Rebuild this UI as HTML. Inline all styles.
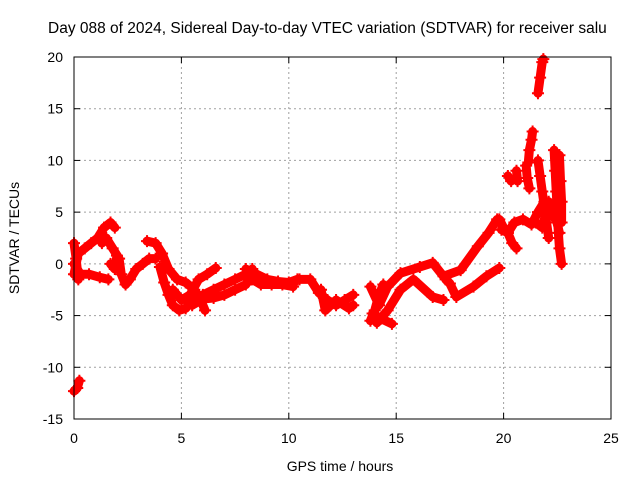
<!DOCTYPE html>
<html><head><meta charset="utf-8"><style>
body{margin:0;background:#fff}
svg{display:block;font-family:"Liberation Sans",sans-serif}
</style></head><body>
<svg id="c" width="640" height="480">
<text x="48" y="33" font-size="15.5" fill="#000">Day 088 of 2024, Sidereal Day-to-day VTEC variation (SDTVAR) for receiver salu</text>
<text x="340" y="471" font-size="14" text-anchor="middle">GPS time / hours</text>
<text x="0" y="0" font-size="14" text-anchor="middle" transform="translate(19,238) rotate(-90)">SDTVAR / TECUs</text>
<g id="grid"></g><g id="ticks"></g><g id="marks"></g>
<rect x="74" y="57" width="537" height="362" fill="none" stroke="#000" stroke-width="1"/>
</svg>
<script>
const xTicks=[0,5,10,15,20,25];
const yTicks=[-15,-10,-5,0,5,10,15,20];
const tracks=[
[[0,-1],[0.2,1],[0.5,1.5],[0.8,2],[1.1,2.5],[1.4,3.5],[1.7,4],[1.9,3.5]],
[[0,0],[0.3,-1],[0.7,-1],[1.2,-1.3],[1.6,-1.5]],
[[0,2],[0.1,0.5],[0.2,-1.5]],
[[0,-12.3],[0.15,-12],[0.25,-11.3]],
[[1.3,2],[1.5,2.5],[1.8,1.5],[2.1,0.5],[2.2,-1],[2.4,-2],[2.6,-1.5],[2.9,-0.5],[3.2,0],[3.5,0.5],[3.8,0.5]],
[[1.7,0],[1.9,-0.5],[2.0,0.8]],
[[3.4,2.2],[3.8,2],[4.1,1],[4.4,-0.5],[4.8,-1.5],[5.2,-1.8],[5.6,-2.5],[5.9,-3.5],[6.1,-4.5]],
[[4.0,-0.3],[4.2,-1.8],[4.4,-3],[4.6,-4],[4.9,-4.5],[5.2,-4.3],[5.5,-3.5],[6,-3],[6.5,-2.5],[7,-2],[7.5,-1.5],[8,-1],[8.3,-0.5]],
[[4.6,-2.5],[5.0,-3.5],[5.4,-3],[5.8,-1.5],[6.2,-1],[6.6,-0.4]],
[[5.5,-4],[6,-3.4],[6.5,-3.3],[7,-3],[7.5,-2.5],[8,-2],[8.3,-1]],
[[8.0,-0.5],[8.5,-1],[9,-1.5],[9.5,-1.7],[10,-1.8],[10.4,-1.5]],
[[8.3,-1.5],[8.7,-2],[9.2,-2],[9.7,-2],[10.2,-2.2]],
[[10.5,-1.5],[11,-1.5],[11.4,-2.8],[11.8,-3.5],[12.2,-4],[12.6,-3.5],[13,-3]],
[[11.5,-2.5],[11.7,-4.5],[12.2,-3.5],[12.8,-4.3],[13,-4]],
[[13.8,-5.5],[14,-4.5],[14.2,-3],[14.4,-2]],
[[13.9,-4.8],[14.3,-5.3],[14.8,-5.8]],
[[13.8,-2.2],[14.2,-4],[14.6,-2.2],[15.2,-0.9],[16.1,-0.3],[16.7,0.1],[17.2,-1.2],[18,-0.6],[18.8,1.7],[19.3,3],[19.7,4.3]],
[[14.1,-5.7],[14.6,-4.5],[15.2,-2.5],[15.8,-1.5],[16.7,-3.2],[17.2,-3.5]],
[[17.3,-1.5],[17.5,-1.9],[17.8,-3.2],[18.6,-2.2],[19.2,-1.2],[19.8,-0.4]],
[[19.8,4.3],[20,3.5],[20.2,3],[20.4,2],[20.6,1.5]],
[[21.6,16.5],[21.7,18],[21.8,19.5],[21.85,19.8]],
[[21.15,9.8],[21.2,11],[21.3,12],[21.35,12.8]],
[[20.2,8.5],[20.35,8.0]],
[[20.6,9],[20.65,8]],
[[21.05,9.5],[21.1,8.3],[21.2,7.3]],
[[21.6,10],[21.7,8.5],[21.8,7],[21.9,5.5],[22.0,4],[22.1,2.5]],
[[22.35,11],[22.4,9],[22.45,7],[22.5,5],[22.55,3],[22.6,1.5],[22.7,0]],
[[22.6,10.5],[22.65,8],[22.7,6],[22.7,4]],
[[19.9,3.3],[20.2,3],[20.5,4],[20.9,4.3],[21.3,3.8],[21.6,5],[21.9,6],[22.2,5],[22.5,4]],
[[21.5,4],[21.8,3.5],[22.1,6],[22.3,5.5],[22.6,3]]
];
const X0=74,X1=611,Y0=419,Y1=57,xmin=0,xmax=25,ymin=-15,ymax=20;
const xs=v=>X0+(v-xmin)/(xmax-xmin)*(X1-X0);
const ys=v=>Y0-(v-ymin)/(ymax-ymin)*(Y0-Y1);
const NS="http://www.w3.org/2000/svg";
const g=document.getElementById('grid'),tk=document.getElementById('ticks'),mk=document.getElementById('marks');
function el(t,a,p){const e=document.createElementNS(NS,t);for(const k in a)e.setAttribute(k,a[k]);p.appendChild(e);return e;}
xTicks.forEach(v=>{
 const x=xs(v);
 if(v>xmin&&v<xmax){const l=el('line',{x1:x,x2:x,y1:Y1,y2:Y0,stroke:'#a0a0a0','stroke-dasharray':'2,3'},g);
 
 }
 el('line',{x1:x,x2:x,y1:Y0,y2:Y0-6,stroke:'#000'},tk);
 el('line',{x1:x,x2:x,y1:Y1,y2:Y1+6,stroke:'#000'},tk);
 const t=el('text',{x:x,y:443,'font-size':14,'text-anchor':'middle'},tk);t.textContent=v;
 
 
});
yTicks.forEach(v=>{
 const y=ys(v);
 if(v>ymin&&v<ymax){const l=el('line',{x1:X0,x2:X1,y1:y,y2:y,stroke:'#a0a0a0','stroke-dasharray':'2,3'},g);
 
 }
 el('line',{x1:X0,x2:X0+6,y1:y,y2:y,stroke:'#000'},tk);
 el('line',{x1:X1,x2:X1-6,y1:y,y2:y,stroke:'#000'},tk);
 const t=el('text',{x:63,y:y+5,'font-size':14,'text-anchor':'end'},tk);t.textContent=v;
 
 
});
tracks.forEach(tr=>{
 const p=el('polyline',{points:tr.map(d=>xs(d[0])+','+ys(d[1])).join(' '),fill:'none',stroke:'#ff0000','stroke-width':9,'stroke-linejoin':'round','stroke-linecap':'round'},mk);
 
 
 tr.forEach(d=>{
  const x=xs(d[0]),y=ys(d[1]);
  const m=el('path',{d:`M${x-6},${y}H${x+6}M${x},${y-6}V${y+6}`,stroke:'#ff0000','stroke-width':2},mk);
  
  
 });
});
</script>
</body></html>
